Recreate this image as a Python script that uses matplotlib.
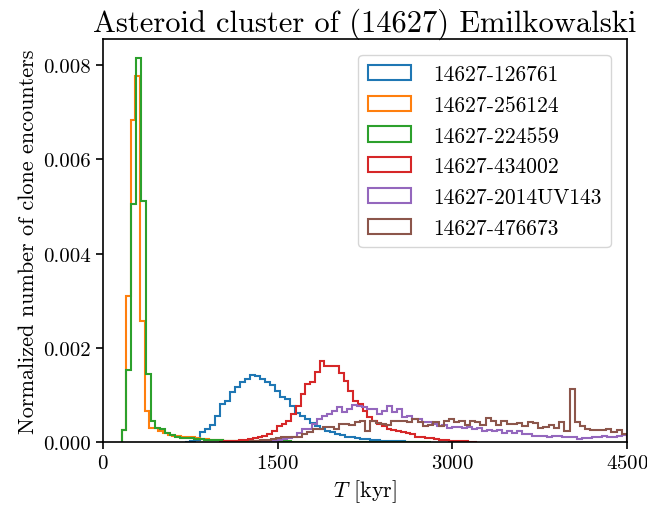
""" Step histograms of clone encounter times for the (14627) Emilkowalski cluster. """
import numpy as np
from matplotlib import pyplot as plt

plt.rcParams['font.family'] = 'cmr10'
plt.rcParams['mathtext.fontset'] = 'cm'
plt.rcParams['axes.formatter.use_mathtext'] = True

# Pair names (legend order)
LABELS = ["14627-126761", "14627-256124", "14627-224559",
          "14627-434002", "14627-2014UV143", "14627-476673"]

# Normalized counts per bin.
# Each series has its own first bin edge and bin width (kyr).
blue_start, blue_width = 704, 43
blue = [0.00001, 0.00002, 0.00004,
        0.00021, 0.00028, 0.00036, 0.00056, 0.00081, 0.00088, 0.00106, 0.00118,
        0.00127, 0.00134, 0.00143, 0.00141, 0.00134, 0.00128, 0.00121, 0.00109,
        0.00095, 0.00091, 0.00077, 0.00062, 0.00056, 0.00049, 0.00040, 0.00034,
        0.00029, 0.00024, 0.00021, 0.00018, 0.00015, 0.00012, 0.00010, 0.00008,
        0.00007, 0.00006, 0.00005, 0.00004, 0.00003, 0.00003, 0.00002, 0.00002,
        0.00002, 0.00001, 0.00001, 0.00001, 0.00001]

orange_start, orange_width = 160, 39.5
orange = [0.00025, 0.00311, 0.00684, 0.00776, 0.00258, 0.00067, 0.00031, 0.00030,
          0.00024, 0.00020, 0.00015, 0.00013, 0.00013, 0.00012, 0.00010, 0.00010,
          0.00008, 0.00007, 0.00006, 0.00005, 0.00004, 0.00004, 0.00003, 0.00003,
          0.00003, 0.00002, 0.00002, 0.00002, 0.00002, 0.00002, 0.00001, 0.00001,
          0.00001, 0.00001, 0.00001, 0.00001, 0.00001, 0.00001, 0.00001, 0.00001]

green_start, green_width = 160, 41.5
green = [0.00025, 0.00153, 0.00505, 0.00815, 0.00511, 0.00145, 0.00045, 0.00031,
         0.00028, 0.00020, 0.00015, 0.00010, 0.00009, 0.00009, 0.00008, 0.00007,
         0.00006, 0.00005, 0.00005, 0.00004, 0.00004, 0.00003, 0.00003, 0.00003,
         0.00002, 0.00002, 0.00002, 0.00002, 0.00002, 0.00002, 0.00002, 0.00002,
         0.00002, 0.00002, 0.00002, 0.00001, 0.00001, 0.00001, 0.00001, 0.00001,
         0.00001, 0.00001, 0.00001, 0.00001, 0.00001, 0.00001, 0.00001, 0.00001,
         0.00001, 0.00001, 0.00001, 0.00001, 0.00001, 0.00001, 0.00001, 0.00001,
         0.00001, 0.00001, 0.00001, 0.00001, 0.00001, 0.00001, 0.00001, 0.00001]

red_start, red_width = 1001, 41
red = [0.00001, 0.00002, 0.00002, 0.00003, 0.00004, 0.00005, 0.00006, 0.00008,
       0.00010, 0.00013, 0.00017, 0.00024, 0.00035, 0.00038, 0.00045, 0.00060,
       0.00077, 0.00102, 0.00123, 0.00127, 0.00148, 0.00173, 0.00162, 0.00162,
       0.00161, 0.00147, 0.00130, 0.00109, 0.00088, 0.00081, 0.00067, 0.00053,
       0.00045, 0.00038, 0.00035, 0.00028, 0.00026, 0.00024, 0.00022, 0.00020,
       0.00017, 0.00012, 0.00010, 0.00009, 0.00008, 0.00006, 0.00005, 0.00004,
       0.00003, 0.00003, 0.00002, 0.00002, 0.00001, 0.00001]

purple_start, purple_width = 1319, 43
purple = [0.00001, 0.00002, 0.00002, 0.00003, 0.00004, 0.00006, 0.00008, 0.00012,
          0.00020, 0.00028, 0.00028, 0.00038, 0.00049, 0.00056, 0.00060, 0.00067,
          0.00074, 0.00063, 0.00070, 0.00079, 0.00076, 0.00074, 0.00070, 0.00070,
          0.00060, 0.00067, 0.00076, 0.00063,
          0.00070, 0.00053, 0.00056, 0.00049, 0.00049, 0.00042, 0.00043, 0.00038,
          0.00035, 0.00036, 0.00031, 0.00032, 0.00033, 0.00031, 0.00033, 0.00029,
          0.00031, 0.00024, 0.00026, 0.00024, 0.00025, 0.00020,
          0.00024, 0.00020, 0.00024, 0.00017, 0.00017, 0.00013, 0.00014, 0.00013,
          0.00012, 0.00013, 0.00013, 0.00012, 0.00010, 0.00012, 0.00006, 0.00008,
          0.00008, 0.00010, 0.00010, 0.00013, 0.00010, 0.00011, 0.00013, 0.00015]

brown_start, brown_width = 1262, 45
brown = [0.00002, 0.00003, 0.00004, 0.00005, 0.00006, 0.00008, 0.00010, 0.00010,
         0.00010, 0.00010, 0.00017, 0.00021, 0.00028, 0.00028, 0.00033, 0.00032,
         0.00028, 0.00038, 0.00038, 0.00036, 0.00042, 0.00045, 0.00024, 0.00045,
         0.00041, 0.00038, 0.00036, 0.00045, 0.00045,
         0.00045, 0.00042, 0.00049, 0.00042, 0.00035, 0.00037, 0.00042, 0.00035,
         0.00045, 0.00049, 0.00042, 0.00045, 0.00037, 0.00045, 0.00043, 0.00037,
         0.00051, 0.00045, 0.00037,
         0.00045, 0.00038, 0.00038, 0.00040, 0.00035, 0.00042, 0.00040, 0.00031,
         0.00033, 0.00036, 0.00031, 0.00042, 0.00024, 0.00113, 0.00042, 0.00035,
         0.00028, 0.00026, 0.00026, 0.00025, 0.00028, 0.00022, 0.00026, 0.00017]

SERIES = [(blue_start, blue_width, blue),
          (orange_start, orange_width, orange),
          (green_start, green_width, green),
          (red_start, red_width, red),
          (purple_start, purple_width, purple),
          (brown_start, brown_width, brown)]

fig = plt.figure(figsize=(6.47, 5.10), dpi=100)
ax = fig.add_axes([0.159, 0.131, 0.81, 0.791])

for i, ((start, width, heights), label) in enumerate(zip(SERIES, LABELS)):
    edges = start + width * np.arange(len(heights) + 1)
    ax.hist(edges[:-1], bins=edges, weights=heights, histtype='step',
            linewidth=1.5, color="C%d" % i, label=label)

ax.set_xlim(0, 4500)
ax.set_xticks([0, 1500, 3000, 4500])
ax.set_yticks([0, 0.002, 0.004, 0.006, 0.008])
ax.yaxis.set_major_formatter(plt.FormatStrFormatter('%.3f'))
ax.tick_params(labelsize=15, width=1.2, length=5)
for spine in ax.spines.values():
    spine.set_linewidth(1.2)

ax.set_xlabel(r"$T$ [kyr]", fontsize=16)
ax.set_ylabel("Normalized number of clone encounters", fontsize=16)
ax.set_title("Asteroid cluster of (14627) Emilkowalski", fontsize=22, pad=5)
ax.legend(loc='upper right', fontsize=15.5, handlelength=2.0,
          handletextpad=1.0, borderpad=0.45, labelspacing=0.52,
          borderaxespad=0.75)

fig.savefig("out.png", dpi=100)
